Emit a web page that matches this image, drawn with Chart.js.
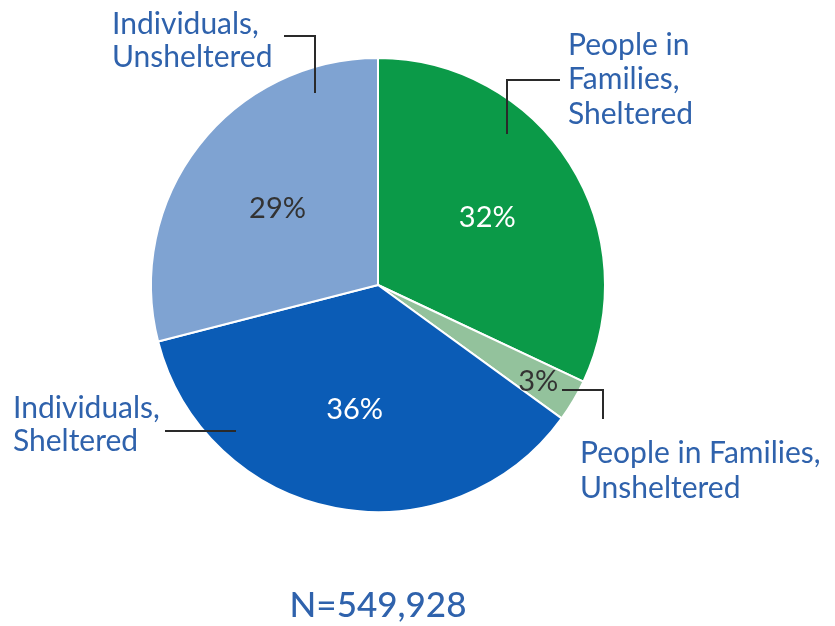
<!DOCTYPE html>
<html>
<head>
<meta charset="utf-8">
<script src="https://cdn.jsdelivr.net/npm/chart.js@4.4.0/dist/chart.umd.min.js"></script>
<style>
  html, body { margin: 0; padding: 0; background: #fff; }
  #wrap { position: relative; width: 835px; height: 626px; }
</style>
</head>
<body>
<div id="wrap"><canvas id="pie" width="835" height="626"></canvas></div>
<script>
// shares of the homeless population, clockwise from 12 o'clock
var categories = [
  "People in Families, Sheltered",
  "People in Families, Unsheltered",
  "Individuals, Sheltered",
  "Individuals, Unsheltered"
];
var shares = [32, 3, 36, 29];
var sliceColors = ["#0b9a48", "#93c29c", "#0b5cb6", "#7fa3d2"];
var pctColors = ["#ffffff", "#333333", "#ffffff", "#333333"];
var pctRadius = [0.57, 0.82, 0.55, 0.56];
var totalN = "N=549,928";

var TEXT_BLUE = "#2f62ac";
var FONT = "Lato, 'Open Sans', sans-serif";

// callout labels with their leader lines (annotation layout)
var callouts = [
  { lines: ["People in", "Families,", "Sheltered"], x: 568, y: 45, lh: 34.5,
    path: [[507, 134], [507, 80], [560, 80]] },
  { lines: ["People in Families,", "Unsheltered"], x: 580, y: 453, lh: 35,
    path: [[562, 390], [603, 390], [603, 419]] },
  { lines: ["Individuals,", "Sheltered"], x: 13, y: 408, lh: 33,
    path: [[165, 431], [236, 431]] },
  { lines: ["Individuals,", "Unsheltered"], x: 112, y: 24, lh: 33,
    path: [[284, 36], [315, 36], [315, 93]] }
];

var labelPlugin = {
  id: "pieLabels",
  afterDatasetsDraw: function (chart) {
    var ctx = chart.ctx;
    var meta = chart.getDatasetMeta(0);
    ctx.save();
    // percent labels inside slices
    ctx.font = "29px " + FONT;
    ctx.textAlign = "center";
    ctx.textBaseline = "middle";
    meta.data.forEach(function (arc, i) {
      var p = arc.getProps(["x", "y", "startAngle", "endAngle", "outerRadius"], true);
      var mid = (p.startAngle + p.endAngle) / 2;
      var r = p.outerRadius * pctRadius[i];
      ctx.fillStyle = pctColors[i];
      ctx.fillText(shares[i] + "%", p.x + Math.cos(mid) * r, p.y + Math.sin(mid) * r + 2);
    });
    // callouts
    ctx.textAlign = "left";
    ctx.font = "30px " + FONT;
    callouts.forEach(function (c) {
      ctx.strokeStyle = "#2a2a2a";
      ctx.lineWidth = 2;
      ctx.beginPath();
      c.path.forEach(function (pt, k) {
        if (k === 0) ctx.moveTo(pt[0], pt[1]);
        else ctx.lineTo(pt[0], pt[1]);
      });
      ctx.stroke();
      ctx.fillStyle = TEXT_BLUE;
      c.lines.forEach(function (t, k) {
        ctx.fillText(t, c.x, c.y + k * c.lh);
      });
    });
    // total
    ctx.textAlign = "center";
    ctx.font = "500 35px " + FONT;
    ctx.fillStyle = TEXT_BLUE;
    ctx.fillText(totalN, 378, 606);
    ctx.restore();
  }
};

new Chart(document.getElementById("pie").getContext("2d"), {
  type: "pie",
  data: {
    labels: categories,
    datasets: [{
      data: shares,
      backgroundColor: sliceColors,
      borderColor: "#ffffff",
      borderWidth: 2
    }]
  },
  options: {
    responsive: false,
    animation: false,
    layout: { padding: { left: 150, right: 229, top: 57, bottom: 113 } },
    plugins: {
      legend: { display: false },
      tooltip: { enabled: false }
    }
  },
  plugins: [labelPlugin]
});
</script>
</body>
</html>
